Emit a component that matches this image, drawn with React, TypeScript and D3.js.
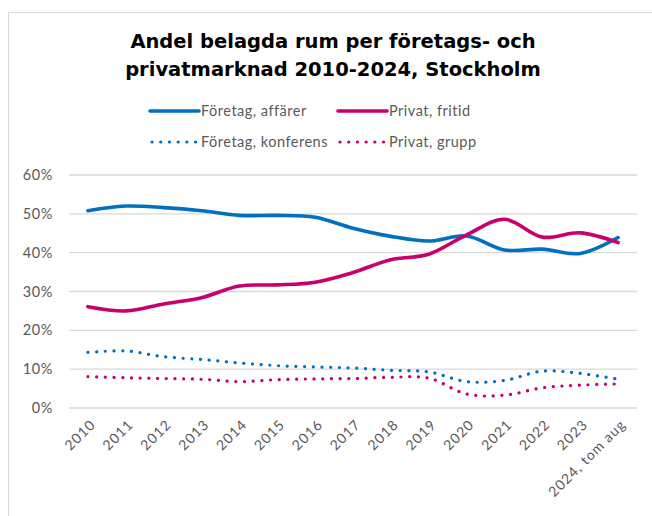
import * as d3 from 'd3'
import { useEffect, useRef } from 'react'

const years = ['2010', '2011', '2012', '2013', '2014', '2015', '2016', '2017', '2018', '2019', '2020', '2021', '2022', '2023', '2024, tom aug']
const foretagAffarer = [50.8, 52.0, 51.6, 50.8, 49.6, 49.6, 49.1, 46.3, 44.2, 43.0, 44.3, 40.7, 40.9, 39.8, 43.9]
const privatFritid = [26.1, 25.0, 26.8, 28.4, 31.4, 31.7, 32.4, 34.9, 38.2, 39.6, 44.6, 48.6, 44.0, 45.1, 42.6]
const foretagKonferens = [14.3, 14.7, 13.2, 12.5, 11.6, 10.9, 10.6, 10.3, 9.7, 9.3, 6.8, 7.1, 9.5, 8.9, 7.4]
const privatGrupp = [8.1, 7.8, 7.6, 7.4, 6.8, 7.3, 7.5, 7.6, 7.9, 7.7, 3.6, 3.3, 5.2, 5.9, 6.2]
const yTicks = [0, 10, 20, 30, 40, 50, 60]

const BLUE = '#0070c0'
const PINK = '#c8006e'

const series = [
  { name: 'Företag, affärer', values: foretagAffarer, color: BLUE, dotted: false },
  { name: 'Privat, fritid', values: privatFritid, color: PINK, dotted: false },
  { name: 'Företag, konferens', values: foretagKonferens, color: BLUE, dotted: true },
  { name: 'Privat, grupp', values: privatGrupp, color: PINK, dotted: true },
]

export default function App() {
  const ref = useRef<SVGSVGElement>(null)
  useEffect(() => {
    const svg = d3.select(ref.current)
    svg.selectAll('*').remove()
    const font = 'Lato, "DejaVu Sans", sans-serif'

    svg.append('rect')
      .attr('x', 8.5).attr('y', 12.5).attr('width', 700).attr('height', 600)
      .attr('fill', '#fff').attr('stroke', '#d9d9d9')

    const title = svg.append('text')
      .attr('text-anchor', 'middle')
      .attr('font-family', '"DejaVu Sans", sans-serif')
      .attr('font-weight', 'bold')
      .attr('font-size', 19.5)
      .attr('fill', '#000')
    title.append('tspan').attr('x', 333).attr('y', 48).text('Andel belagda rum per företags- och')
    title.append('tspan').attr('x', 333).attr('y', 76).text('privatmarknad 2010-2024, Stockholm')

    const x = d3.scalePoint().domain(years).range([69, 637]).padding(0.5)
    const y = d3.scaleLinear().domain([0, 60]).range([408, 175])

    // grid
    svg.append('g').selectAll('line').data(yTicks).join('line')
      .attr('x1', 69).attr('x2', 637)
      .attr('y1', (d) => y(d)).attr('y2', (d) => y(d))
      .attr('stroke', '#d9d9d9').attr('stroke-width', 1.3)

    svg.append('g').selectAll('text').data(yTicks).join('text')
      .attr('x', 53).attr('y', (d) => y(d))
      .attr('dy', '0.35em')
      .attr('text-anchor', 'end')
      .attr('font-family', font).attr('font-size', 14.5).attr('letter-spacing', 0.6).attr('fill', '#595959')
      .text((d) => `${d}%`)

    svg.append('g').selectAll('text').data(years).join('text')
      .attr('transform', (d) => `translate(${(x(d) as number) + 5},${422}) rotate(-45)`)
      .attr('text-anchor', 'end')
      .attr('dy', '0.35em')
      .attr('font-family', font).attr('font-size', 14).attr('letter-spacing', 1).attr('fill', '#595959')
      .text((d) => d)

    const line = d3.line<number>()
      .x((_, i) => x(years[i]) as number)
      .y((d) => y(d))
      .curve(d3.curveCatmullRom.alpha(0.5))

    series.forEach((s) => {
      svg.append('path')
        .attr('d', line(s.values))
        .attr('fill', 'none')
        .attr('stroke', s.color)
        .attr('stroke-width', s.dotted ? 3.2 : 3.6)
        .attr('stroke-linecap', 'round')
        .attr('stroke-dasharray', s.dotted ? '0.1 8.6' : null)
    })

    // legend
    const legendPos = [
      { lx: 150, ly: 111 },
      { lx: 338, ly: 111 },
      { lx: 150, ly: 142 },
      { lx: 338, ly: 142 },
    ]
    series.forEach((s, i) => {
      const { lx, ly } = legendPos[i]
      svg.append('line')
        .attr('x1', lx + (s.dotted ? 2 : 0)).attr('x2', lx + 49)
        .attr('y1', ly).attr('y2', ly)
        .attr('stroke', s.color)
        .attr('stroke-width', s.dotted ? 3.2 : 3.6)
        .attr('stroke-linecap', 'round')
        .attr('stroke-dasharray', s.dotted ? '0.1 8.6' : null)
      svg.append('text')
        .attr('x', lx + 51).attr('y', ly)
        .attr('dy', '0.35em')
        .attr('font-family', font).attr('font-size', 14.5).attr('letter-spacing', 0.5).attr('fill', '#595959')
        .text(s.name)
    })
  }, [])
  return (
    <svg ref={ref} width={652} height={516}
      style={{ position: 'absolute', left: 0, top: 0, background: '#fff' }} />
  )
}
